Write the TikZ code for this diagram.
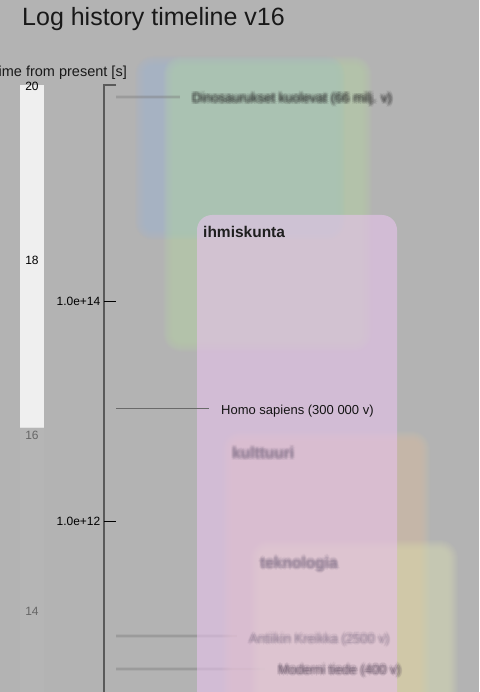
\documentclass[tikz,border=0pt]{standalone}
\usepackage{fontspec}
\setmainfont{Liberation Sans}
\usetikzlibrary{calc}

\definecolor{bg}{HTML}{B3B3B3}
\definecolor{barwhite}{HTML}{EFEFEF}
\definecolor{axisgray}{HTML}{5A5A5A}
\definecolor{mutedtick}{HTML}{666666}
\definecolor{eventline}{HTML}{6A6A6A}
\definecolor{blueera}{RGB}{160,178,218}
\definecolor{greenera}{RGB}{185,218,170}
\definecolor{culture}{RGB}{224,197,166}
\definecolor{techno}{RGB}{224,227,178}
\definecolor{humans}{RGB}{231,194,236}
\definecolor{softink}{HTML}{2E2E2E}
\definecolor{fadedink}{HTML}{8A7890}
\definecolor{plumink}{HTML}{5A4A5E}
\definecolor{softline}{HTML}{7A7A7A}

% a rounded box with a soft (out of focus) edge: eleven stacked layers
% #1 x1, #2 y1, #3 x2, #4 y2, #5 colour, #6 opacity of one layer
\newcommand\softbox[6]{%
  \foreach \d in {-5,-4,...,5}{%
    \pgfmathsetmacro\rr{max(13+\d,1)}%
    \fill[#5, fill opacity=#6, rounded corners=\rr pt]
      (#1-\d,#2-\d) rectangle (#3+\d,#4+\d);
  }}

% an out of focus label: the text set over two small rings
% #1 name, #2 position, #3 style, #4 text, #5 opacity of one copy
\newcommand\softlabel[5]{%
  \foreach \dx/\dy [count=\k] in {0/0,1.1/0,-1.1/0,0/1.1,0/-1.1,0.8/0.8,-0.8/0.8,0.8/-0.8,-0.8/-0.8,
      2.2/0,-2.2/0,0/2.2,0/-2.2,1.6/1.6,-1.6/1.6,1.6/-1.6,-1.6/-1.6}{%
    \node[#3, text opacity=#5, xshift=\dx pt, yshift=\dy pt] (#1-\k) at #2 {#4};
  }}

\tikzset{
  lbl/.style={inner sep=0pt, anchor=base west},
  ticklbl/.style={inner sep=0pt, anchor=east, font=\fontsize{12}{14}\selectfont},
  scalelbl/.style={inner sep=0pt, font=\fontsize{12}{14}\selectfont},
  eventlbl/.style={lbl, font=\fontsize{13}{15}\selectfont},
  eralbl/.style={lbl, font=\fontsize{15.5}{18}\selectfont\bfseries},
}

\begin{document}
\begin{tikzpicture}[x=1pt, y=-1pt]
\useasboundingbox (0,0) rectangle (479,692);
\clip (0,0) rectangle (479,692);
\fill[bg] (0,0) rectangle (479,692);

% title and axis caption
\node[inner sep=0pt, anchor=base west, font=\fontsize{25}{29}\selectfont, text=black!90]
  (title) at (22,26) {Log history timeline v16};
\node[inner sep=0pt, anchor=base east, font=\fontsize{14.5}{17}\selectfont, text=black!90]
  (caption) at (127,77) {Time from present [s]};

% exponent scale on the left
\fill[white, fill opacity=0.04] (20,427) rectangle (44,692);
\fill[barwhite] (20,85) rectangle (44,427);
\draw[black!12, line width=0.8pt] (20,427) -- (44,427);
\node[scalelbl] (s20) at (32,86) {20};
\node[scalelbl] (s18) at (32,260.5) {18};
\node[scalelbl, text=mutedtick] (s16) at (32,435.5) {16};
\node[scalelbl, text=mutedtick] (s14) at (32,611) {14};

% blurred eras in the background
\softbox{140}{61}{340}{235}{blueera}{0.061}
\softbox{168}{61}{367}{347}{greenera}{0.061}

% event lines that pass under the front box
\coordinate (dinoS) at (116,97);
\coordinate (greeceS) at (116,636);
\coordinate (scienceS) at (116,669);
\coordinate (greeceE) at (237,636);
\coordinate (scienceE) at (265,669);
\coordinate (dinoE) at (180,97);
\foreach \a/\b in {dinoS/dinoE, greeceS/greeceE, scienceS/scienceE}{
  \draw[softline, line width=4pt, opacity=0.15] (\a) -- (\b);
  \draw[softline, line width=1.8pt, opacity=0.3] (\a) -- (\b);
}

\softlabel{dino}{(192,102.5)}{eventlbl, text=softink}{Dinosaurukset kuolevat (66 milj. v)}{0.1}

\softbox{227}{436}{425}{760}{culture}{0.061}
\softbox{255}{545}{453}{760}{techno}{0.061}

% the sharp front era
\fill[humans, fill opacity=0.6, rounded corners=15pt] (197,215) rectangle (397,760);
\node[eralbl, text=black!88] (humanity) at (203,238) {ihmiskunta};

\softlabel{culturelbl}{(232,458.5)}{eralbl, text=fadedink}{kulttuuri}{0.09}
\softlabel{techlbl}{(260,568)}{eralbl, text=fadedink}{teknologia}{0.09}
\softlabel{greece}{(249,643)}{eventlbl, text=fadedink}{Antiikin Kreikka (2500 v)}{0.08}
\softlabel{science}{(278,674)}{eventlbl, text=plumink}{Moderni tiede (400 v)}{0.09}

% time axis
\coordinate (axTop) at (104,85);
\coordinate (axTopEnd) at (116,85);
\coordinate (axBot) at (104,700);
\draw[axisgray, line width=1.4pt] (axTopEnd) -- (axTop) -- (axBot);
\coordinate (t14) at (104,301);
\coordinate (t12) at (104,521);
\draw[black, line width=1pt] (t14) -- ++(12,0);
\draw[black, line width=1pt] (t12) -- ++(12,0);
\node[ticklbl] (l14) at (100.5,301) {1.0e+14};
\node[ticklbl] (l12) at (100.5,521) {1.0e+12};

% sharp event
\coordinate (homoS) at (116,408);
\node[eventlbl, text=black!92] (homo) at (221,414) {Homo sapiens (300 000 v)};
\draw[eventline, line width=1pt] (homoS) -- (homoS -| 209,0);
\end{tikzpicture}
\end{document}
